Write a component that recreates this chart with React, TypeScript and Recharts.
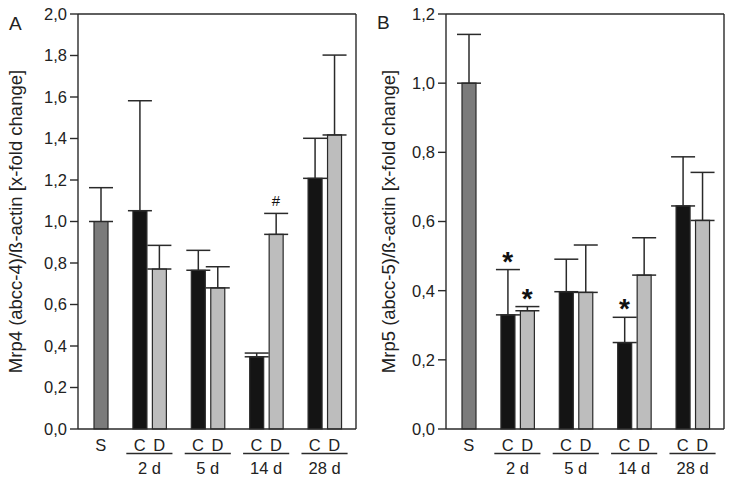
import React from 'react';
import { ComposedChart, Bar, Line, XAxis, YAxis, ErrorBar, Cell, LabelList, CartesianGrid } from 'recharts';

// time points after treatment
const groups = ['2 d', '5 d', '14 d', '28 d'];

// Panel A: Mrp4 (abcc-4)
const mrp4Sham = 1.0;
const mrp4ShamErr = 0.163;
const mrp4C = [1.052, 0.765, 0.348, 1.208];
const mrp4CErr = [0.53, 0.096, 0.018, 0.193];
const mrp4D = [0.771, 0.68, 0.938, 1.417];
const mrp4DErr = [0.114, 0.102, 0.101, 0.385];
const mrp4MarkC = ['', '', '', ''];
const mrp4MarkD = ['', '', '#', ''];
const mrp4Ticks = [0, 0.2, 0.4, 0.6, 0.8, 1.0, 1.2, 1.4, 1.6, 1.8, 2.0];

// Panel B: Mrp5 (abcc-5)
const mrp5Sham = 1.0;
const mrp5ShamErr = 0.141;
const mrp5C = [0.33, 0.397, 0.25, 0.645];
const mrp5CErr = [0.131, 0.094, 0.073, 0.142];
const mrp5D = [0.342, 0.395, 0.445, 0.603];
const mrp5DErr = [0.012, 0.137, 0.108, 0.139];
const mrp5MarkC = ['*', '', '*', ''];
const mrp5MarkD = ['*', '', '', ''];
const mrp5Ticks = [0, 0.2, 0.4, 0.6, 0.8, 1.0, 1.2];

const COLORS = { sham: '#7b7b7b', C: '#141414', D: '#bdbdbd', line: '#2a2a2a' };
const FONT = '"Liberation Sans", Arial, sans-serif';

type Row = {
  id: string;
  label: string;
  group?: string;
  v?: number;
  err?: [number, number];
  fill?: string;
  mark?: string;
  top?: number;
};

const buildRows = (
  sham: number, shamErr: number,
  c: number[], cErr: number[], d: number[], dErr: number[],
  markC: string[], markD: string[]
): Row[] => {
  const rows: Row[] = [{ id: 's', label: 'S', v: sham, err: [0, shamErr], fill: COLORS.sham }];
  groups.forEach((g, i) => {
    rows.push({ id: `gap${i}`, label: '' });
    rows.push({
      id: `c${i}`, label: 'C', group: g, v: c[i], err: [0, cErr[i]], fill: COLORS.C,
      mark: markC[i] || undefined, top: markC[i] ? c[i] + cErr[i] : undefined,
    });
    rows.push({
      id: `d${i}`, label: 'D', v: d[i], err: [0, dErr[i]], fill: COLORS.D,
      mark: markD[i] || undefined, top: markD[i] ? d[i] + dErr[i] : undefined,
    });
  });
  return rows;
};

const rowsA = buildRows(mrp4Sham, mrp4ShamErr, mrp4C, mrp4CErr, mrp4D, mrp4DErr, mrp4MarkC, mrp4MarkD);
const rowsB = buildRows(mrp5Sham, mrp5ShamErr, mrp5C, mrp5CErr, mrp5D, mrp5DErr, mrp5MarkC, mrp5MarkD);

const fmt = (v: number) => v.toFixed(1).replace('.', ',');

// category letter under each bar, plus the underlined time label under each C/D pair
const XTick = ({ x, y, payload, rows }: any) => {
  const row: Row | undefined = rows.find((r: Row) => r.id === payload.value);
  if (!row) return null;
  const half = payload.offset || 9.7;
  return (
    <g>
      <text x={x} y={y + 16} textAnchor="middle" dominantBaseline="central"
        fontFamily={FONT} fontSize={16.5} fill="#222">{row.label}</text>
      {row.group && (
        <>
          <line x1={x - 1.37 * half} x2={x + 2 * half + 1.37 * half} y1={y + 24.5} y2={y + 24.5}
            stroke={COLORS.line} strokeWidth={1.4} />
          <text x={x + half} y={y + 38.5} textAnchor="middle" dominantBaseline="central"
            fontFamily={FONT} fontSize={16.5} fill="#222">{row.group}</text>
        </>
      )}
    </g>
  );
};

const MarkLabel = (props: any) => {
  const { x, y, value } = props;
  if (!value || y == null) return null;
  const star = value === '*';
  return (
    <text x={x} y={star ? y + 1 : y - 7} textAnchor="middle" fontFamily={FONT}
      fontSize={star ? 28 : 15} fontWeight={star ? 'bold' : 'normal'} fill="#111">{value}</text>
  );
};

interface PanelProps {
  rows: Row[];
  ticks: number[];
  max: number;
  width: number;
  right: number;
  yLabel: string;
  labelX: number;
}

const Panel: React.FC<PanelProps> = ({ rows, ticks, max, width, right, yLabel, labelX }) => (
  <ComposedChart width={width} height={480} data={rows} margin={{ top: 14, right, bottom: 0, left: 0 }}>
    {/* top and right edges of the box */}
    <CartesianGrid
      stroke={COLORS.line}
      strokeWidth={1.4}
      horizontalCoordinatesGenerator={({ offset }: any) => [offset.top]}
      verticalCoordinatesGenerator={({ offset }: any) => [offset.left + offset.width]}
    />
    <XAxis
      dataKey="id"
      type="category"
      interval={0}
      height={51}
      padding={{ left: 13, right: 12 }}
      tickLine={false}
      tickSize={0}
      tickMargin={0}
      stroke={COLORS.line}
      strokeWidth={1.4}
      tick={(p: any) => <XTick {...p} rows={rows} />}
    />
    <YAxis
      type="number"
      domain={[0, max]}
      ticks={ticks}
      width={78}
      tickSize={8}
      tickMargin={3}
      tickFormatter={fmt}
      stroke={COLORS.line}
      strokeWidth={1.4}
      tick={{ fontFamily: FONT, fontSize: 16.5, fill: '#222' }}
      label={{
        content: ({ viewBox }: any) => {
          const cx = (viewBox?.x ?? 0) + labelX;
          const cy = (viewBox?.y ?? 14) + (viewBox?.height ?? 415) / 2;
          return (
            <text x={cx} y={cy} transform={`rotate(-90 ${cx} ${cy})`} textAnchor="middle"
              dominantBaseline="central" fontFamily={FONT} fontSize={18.5} fill="#222">{yLabel}</text>
          );
        },
      }}
    />
    <Bar dataKey="v" barSize={14} stroke={COLORS.line} strokeWidth={1.2} isAnimationActive={false}>
      {rows.map((r) => <Cell key={r.id} fill={r.fill} />)}
      <ErrorBar dataKey="err" direction="y" width={12} stroke={COLORS.line} strokeWidth={1.5} />
    </Bar>
    <Line dataKey="top" stroke="none" dot={false} activeDot={false} legendType="none"
      isAnimationActive={false}>
      <LabelList dataKey="mark" content={MarkLabel} />
    </Line>
  </ComposedChart>
);

const panelLetter: React.CSSProperties = {
  position: 'absolute', fontFamily: FONT, fontSize: 19, color: '#222', lineHeight: 1,
};

export default function App() {
  return (
    <div style={{ position: 'absolute', left: 0, top: 0, width: 733, height: 480, background: '#fff' }}>
      <div style={{ position: 'absolute', left: 0, top: 0 }}>
        <Panel rows={rowsA} ticks={mrp4Ticks} max={2} width={370} right={14}
          yLabel="Mrp4 (abcc-4)/ß-actin [x-fold change]" labelX={15} />
      </div>
      <div style={{ position: 'absolute', left: 368, top: 0 }}>
        <Panel rows={rowsB} ticks={mrp5Ticks} max={1.2} width={365} right={9}
          yLabel="Mrp5 (abcc-5)/ß-actin [x-fold change]" labelX={20} />
      </div>
      <div style={{ ...panelLetter, left: 9, top: 14 }}>A</div>
      <div style={{ ...panelLetter, left: 377, top: 13 }}>B</div>
    </div>
  );
}
